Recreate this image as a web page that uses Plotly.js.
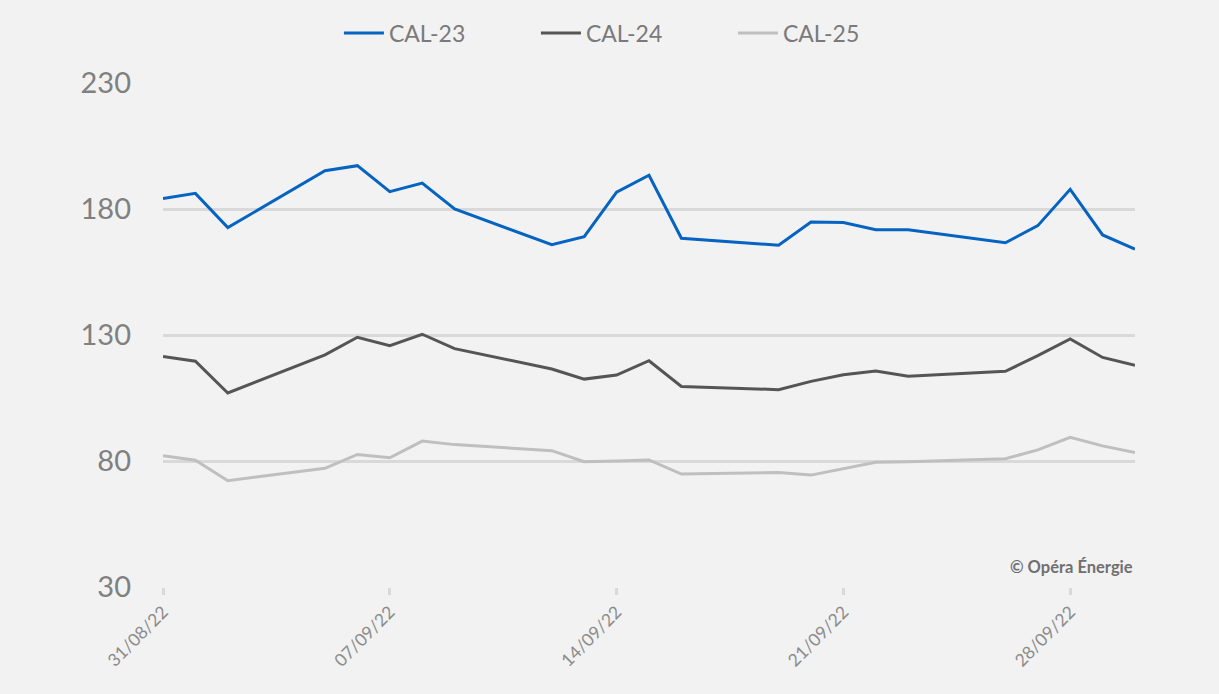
<!DOCTYPE html>
<html>
<head>
<meta charset="utf-8">
<script src="https://cdn.plot.ly/plotly-3.0.1.min.js"></script>
<style>html,body{margin:0;padding:0;background:#f2f2f2;}#chart{width:1219px;height:694px;}</style>
</head>
<body>
<div id="chart"></div>
<script>
const dates = ["2022-08-31","2022-09-01","2022-09-02","2022-09-05","2022-09-06","2022-09-07","2022-09-08","2022-09-09",
  "2022-09-12","2022-09-13","2022-09-14","2022-09-15","2022-09-16","2022-09-19","2022-09-20","2022-09-21","2022-09-22","2022-09-23",
  "2022-09-26","2022-09-27","2022-09-28","2022-09-29","2022-09-30"];
const cal23 = [184.2,186.2,172.6,195.2,197.2,186.9,190.3,180.0,165.8,169.0,186.7,193.4,168.4,165.6,174.8,174.6,171.8,171.8,166.6,173.4,187.8,169.7,164.1];
const cal24 = [121.5,119.6,107.0,122.1,129.1,125.8,130.3,124.6,116.5,112.5,114.1,119.8,109.6,108.3,111.6,114.2,115.7,113.6,115.6,121.8,128.4,121.1,118.0];
const cal25 = [82.1,80.3,72.2,77.1,82.6,81.3,87.9,86.5,84.1,79.7,80.0,80.4,74.8,75.4,74.4,77.0,79.5,79.7,80.9,84.4,89.4,86.0,83.4];
const seriesNames = ["CAL-23","CAL-24","CAL-25"];
const xTickVals = ["2022-08-31","2022-09-07","2022-09-14","2022-09-21","2022-09-28"];
const xTickText = ["31/08/22","07/09/22","14/09/22","21/09/22","28/09/22"];
const yTickVals = [30,80,130,180,230];

const colors = ["#0563c1","#555555","#bfbfbf"];
const vals = [cal23, cal24, cal25];
const traces = vals.map((v,i)=>({
  x: dates, y: v, type: "scatter", mode: "lines", name: seriesNames[i],
  line: {color: colors[i], width: 3}
}));
const font = "Lato, 'Noto Sans', sans-serif";
const layout = {
  width: 1219, height: 694,
  paper_bgcolor: "#f2f2f2", plot_bgcolor: "#f2f2f2",
  margin: {l: 163, r: 84, t: 83, b: 107},
  font: {family: font, color: "#7f7f7f"},
  showlegend: true,
  legend: {orientation: "h", x: 0.485, xanchor: "center", y: 1.099, yanchor: "middle",
    font: {size: 23, color: "#7a7a7a", family: font}, itemwidth: 40, entrywidth: 142, bgcolor: "rgba(0,0,0,0)"},
  xaxis: {type: "date", range: ["2022-08-31","2022-09-30"], tickvals: xTickVals, ticktext: xTickText,
    tickangle: -45, tickfont: {size: 17.5, color: "#8c8c8c"}, showgrid: false, zeroline: false,
    ticks: "outside", ticklen: 7, tickwidth: 3, tickcolor: "#d9d9d9", showline: false, fixedrange: true},
  yaxis: {range: [30, 230], tickvals: yTickVals, tickfont: {size: 29, color: "#808080"},
    showgrid: true, gridcolor: "#d9d9d9", gridwidth: 3, zeroline: false, ticks: "", ticklabelstandoff: 31,
    fixedrange: true},
  annotations: [{text: "<b>© Opéra Énergie</b>", xref: "paper", yref: "paper", x: 1, xanchor: "right",
    y: 0.04, yanchor: "middle", showarrow: false, font: {size: 16.5, color: "#6f6f6f", family: font}}],
  hovermode: false
};
Plotly.newPlot("chart", traces, layout, {displayModeBar: false, staticPlot: true});
</script>
</body>
</html>
